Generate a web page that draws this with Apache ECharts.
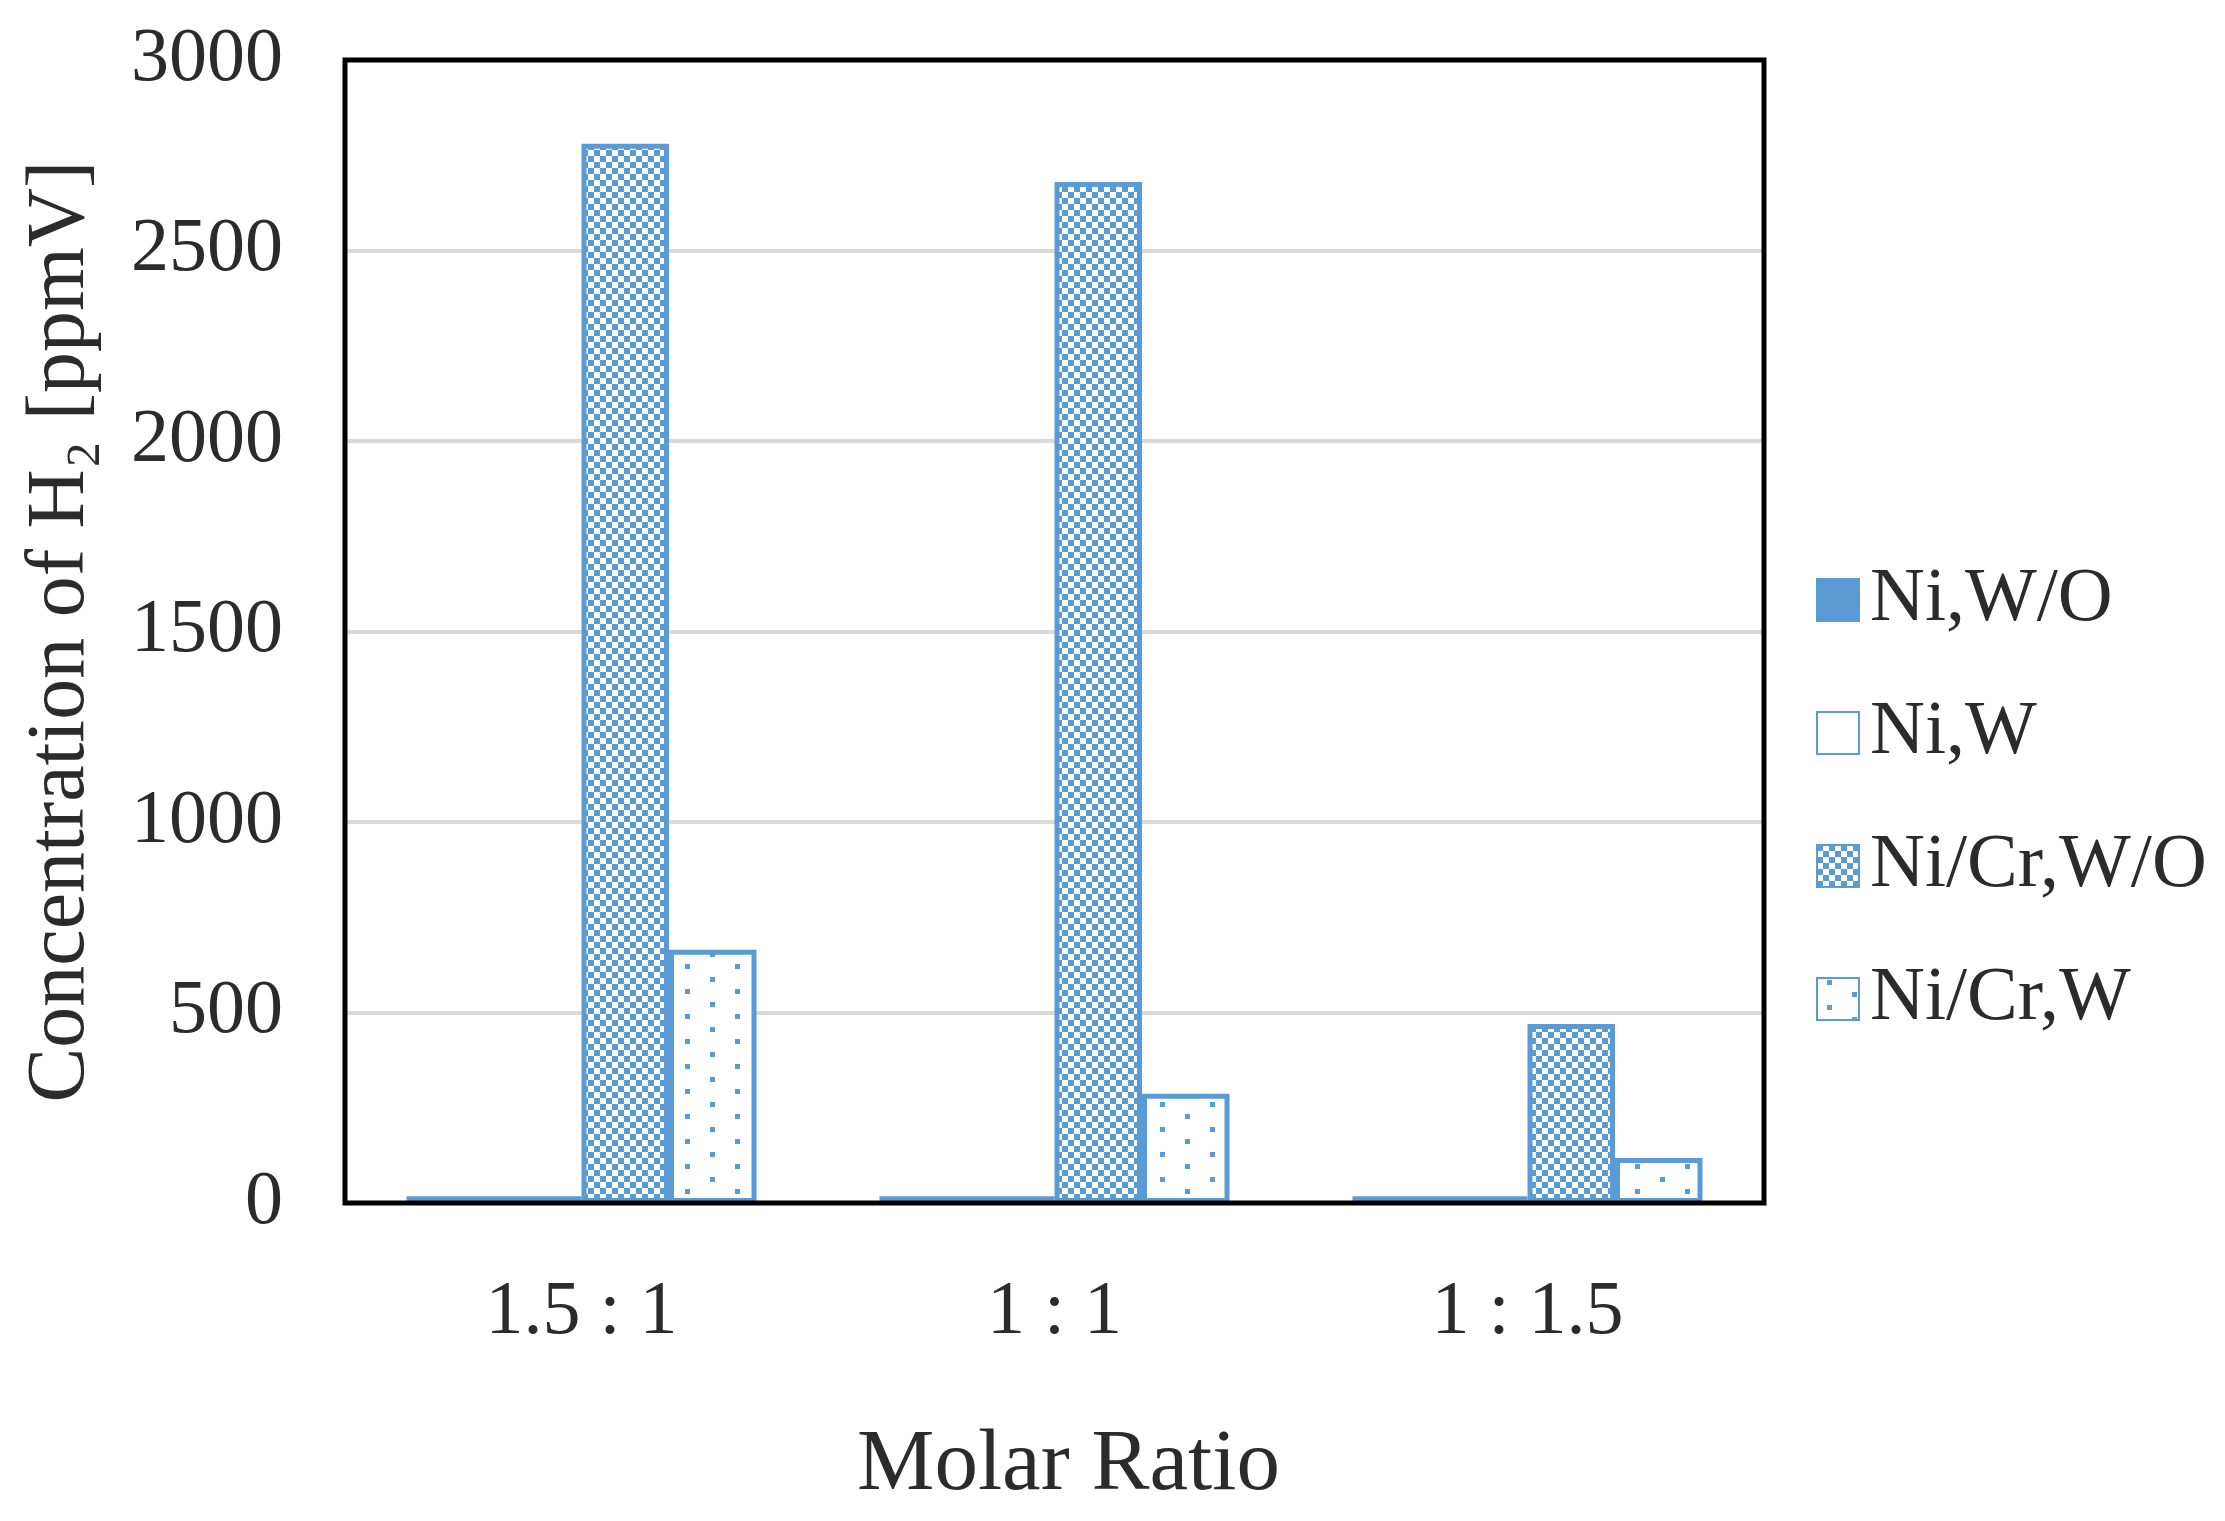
<!DOCTYPE html>
<html>
<head>
<meta charset="utf-8">
<script src="https://cdn.jsdelivr.net/npm/echarts@6/dist/echarts.min.js"></script>
<style>
html,body{margin:0;padding:0;background:#fff;}
#chart{width:2225px;height:1521px;}
</style>
</head>
<body>
<div id="chart"></div>
<script>
const categories = ['1.5 : 1', '1 : 1', '1 : 1.5'];
const seriesNames = ['Ni,W/O', 'Ni,W', 'Ni/Cr,W/O', 'Ni/Cr,W'];
const niWO = [18, 18, 18];
const niW = [18, 18, 18];
const niCrWO = [2780, 2680, 470];
const niCrW = [665, 287, 118];
const yTicks = [0, 500, 1000, 1500, 2000, 2500, 3000];

const BLUE = '#5b9bd5';
const FONT = '"Liberation Serif", "Times New Roman", serif';
const TXT = '#2b2b2b';

function checker() {
  const c = document.createElement('canvas');
  c.width = 12; c.height = 12;
  const g = c.getContext('2d');
  g.fillStyle = '#fff'; g.fillRect(0, 0, 12, 12);
  g.fillStyle = BLUE;
  g.fillRect(0, 0, 6, 6); g.fillRect(6, 6, 6, 6);
  return c;
}
function dots() {
  const c = document.createElement('canvas');
  c.width = 50; c.height = 25;
  const g = c.getContext('2d');
  g.fillStyle = '#fff'; g.fillRect(0, 0, 50, 25);
  g.fillStyle = BLUE;
  g.fillRect(10, 2, 5, 5); g.fillRect(35, 14, 5, 5);
  return c;
}

const fills = [
  BLUE,
  '#ffffff',
  { image: checker(), repeat: 'repeat' },
  { image: dots(), repeat: 'repeat' }
];
const dataSets = [niWO, niW, niCrWO, niCrW];

const chart = echarts.init(document.getElementById('chart'));
chart.setOption({
  backgroundColor: '#fff',
  animation: false,
  grid: { left: 345, right: 461, top: 60, bottom: 318, show: true, borderColor: '#000', borderWidth: 5, backgroundColor: 'transparent', z: 3 },
  legend: {
    orient: 'vertical', left: 1811, top: 555,
    itemWidth: 42, itemHeight: 42, itemGap: 53,
    icon: 'rect',
    textStyle: { fontFamily: FONT, fontSize: 76, color: TXT, lineHeight: 80, padding: [0, 0, 0, 6] },
    data: seriesNames
  },
  xAxis: {
    type: 'category', data: categories,
    axisLine: { show: false }, axisTick: { show: false },
    axisLabel: { fontFamily: FONT, fontSize: 76, color: TXT, margin: 72 },
    name: 'Molar Ratio', nameLocation: 'middle', nameGap: 220,
    nameTextStyle: { fontFamily: FONT, fontSize: 87, color: TXT, padding: [0, 0, 0, 28] }
  },
  yAxis: {
    type: 'value', min: 0, max: 3000, interval: 500,
    axisLine: { show: false }, axisTick: { show: false },
    axisLabel: { fontFamily: FONT, fontSize: 76, color: TXT, margin: 62,
      formatter: v => yTicks.includes(v) ? String(v) : '' },
    splitLine: { lineStyle: { color: '#d9d9d9', width: 4 } },
    name: 'Concentration of H\u2082 [ppmV]', nameLocation: 'middle', nameGap: 243,
    nameTextStyle: { fontFamily: FONT, fontSize: 82, color: TXT }
  },
  series: seriesNames.map((n, i) => ({
    name: n, type: 'bar', data: dataSets[i],
    barGap: '0%', barCategoryGap: '26%',
    itemStyle: { color: fills[i], borderColor: BLUE, borderWidth: 5 }
  }))
});
</script>
</body>
</html>
